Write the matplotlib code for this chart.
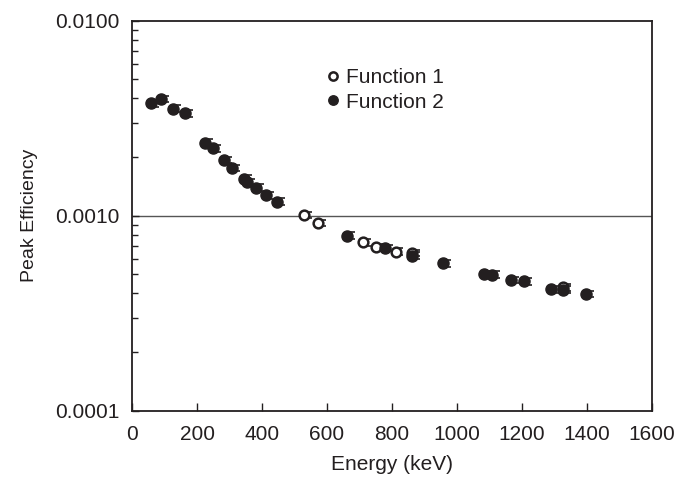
import matplotlib
matplotlib.use("Agg")
import matplotlib.pyplot as plt
from matplotlib.ticker import FixedLocator, FuncFormatter, LogLocator, NullFormatter
import numpy as np

plt.rcParams['font.family'] = ['Liberation Sans', 'DejaVu Sans']

# Function 1 (open circles)
energy_f1 = [529, 573, 710, 750, 811, 862, 1325]
eff_f1 = [0.00101, 0.000918, 0.000730, 0.000688, 0.000654, 0.000644, 0.000430]

# Function 2 (filled circles)
energy_f2 = [58, 88, 125, 162, 226, 250, 282, 309, 345, 355, 382, 413, 446,
             662, 778, 862, 956, 1083, 1107, 1166, 1207, 1290, 1325, 1397]
eff_f2 = [0.00378, 0.00397, 0.00354, 0.00336, 0.00237, 0.00222, 0.00193, 0.00176,
          0.00155, 0.00148, 0.00139, 0.00127, 0.00118,
          0.000789, 0.000683, 0.000624, 0.000569, 0.000502, 0.000498, 0.000468,
          0.000460, 0.000419, 0.000418, 0.000397]

ink = '#231f20'
bar_shift = 12  # error bars sit a little right of the markers
rel_err = 0.04

fig = plt.figure(figsize=(6.89, 4.78), dpi=100)
ax = fig.add_axes([0.1916, 0.1408, 0.7547, 0.8159])

for e, v, filled in [(energy_f1, eff_f1, False), (energy_f2, eff_f2, True)]:
    e = np.array(e, dtype=float)
    v = np.array(v)
    ax.errorbar(e + bar_shift, v, yerr=v * rel_err, fmt='none', ecolor=ink,
                elinewidth=1.2, capsize=3, capthick=1.2, zorder=2 if not filled else 4)

ax.plot(energy_f1, eff_f1, 'o', ms=7, mfc='white', mec=ink, mew=1.8, zorder=3,
        label='Function 1', linestyle='none')
ax.plot(energy_f2, eff_f2, 'o', ms=8, mfc=ink, mec=ink, mew=1, zorder=5,
        label='Function 2', linestyle='none')

ax.axhline(1e-3, color='#555555', lw=1.0, zorder=1)

ax.set_yscale('log')
ax.set_xlim(0, 1600)
ax.set_ylim(1e-4, 1e-2)
ax.set_xticks(np.arange(0, 1601, 200))
ax.yaxis.set_major_locator(FixedLocator([1e-4, 1e-3, 1e-2]))
ax.yaxis.set_major_formatter(FuncFormatter(lambda y, p: '%.4f' % y))
ax.yaxis.set_minor_locator(LogLocator(base=10, subs=np.arange(2, 10)))
ax.yaxis.set_minor_formatter(NullFormatter())

ax.tick_params(axis='both', which='major', direction='in', length=5, width=1,
               color=ink, labelcolor=ink, labelsize=15)
ax.tick_params(axis='y', which='major', pad=9)
ax.tick_params(axis='y', which='minor', direction='in', length=4, width=1, color=ink)
ax.tick_params(axis='x', which='major', length=6, pad=10)
for s in ax.spines.values():
    s.set_color(ink)
    s.set_linewidth(1.3)

ax.set_xlabel('Energy (keV)', fontsize=15, color=ink, labelpad=8)
ax.set_ylabel('Peak Efficiency', fontsize=14, color=ink, labelpad=12)

leg = ax.legend(loc='upper left', bbox_to_anchor=(0.338, 0.926), frameon=False,
                fontsize=15, handlelength=0.6, handletextpad=0.35, labelspacing=0.25,
                markerscale=0.85)
for t in leg.get_texts():
    t.set_color(ink)

fig.savefig('out.png', dpi=100)
